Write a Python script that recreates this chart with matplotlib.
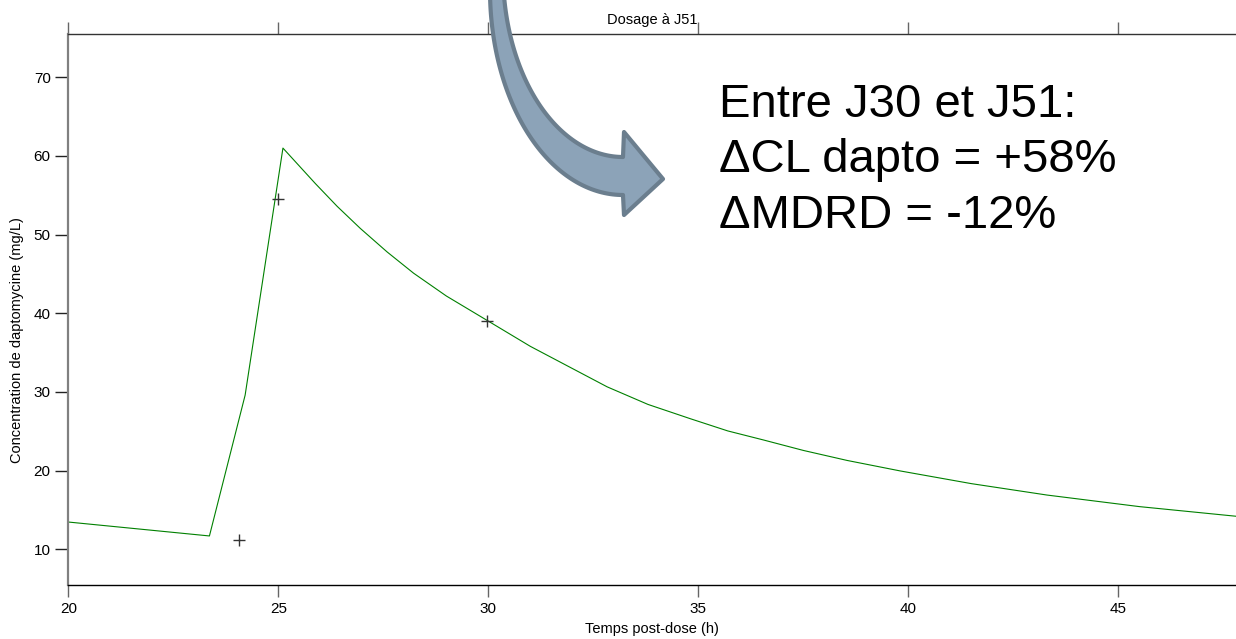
import matplotlib
matplotlib.use("Agg")
import matplotlib.pyplot as plt
import numpy as np
from matplotlib.patches import Polygon

plt.rcParams['font.family'] = ['Liberation Sans', 'DejaVu Sans']

# Data
pred_time = [20.0, 23.36, 24.21, 25.11, 25.88, 26.4, 26.95, 27.59, 28.22, 29.0,
             29.97, 31.0, 32.83, 33.8, 34.81, 35.7, 36.55, 37.5, 38.54, 39.81,
             41.5, 43.3, 45.5, 47.81, 48.0]
pred_conc = [13.47, 11.7, 29.6, 61.0, 56.5, 53.6, 50.8, 47.8, 45.1, 42.2,
             39.1, 35.8, 30.65, 28.42, 26.6, 25.05, 23.9, 22.57, 21.3, 19.96,
             18.35, 16.9, 15.43, 14.2, 14.1]
obs_time = [24.06, 24.99, 29.98]
obs_conc = [11.15, 54.5, 39.05]
xticks = [20, 25, 30, 35, 40, 45]
yticks = [10, 20, 30, 40, 50, 60, 70]

W, H = 1236, 639
fig = plt.figure(figsize=(W / 100, H / 100), dpi=100)
ax = fig.add_axes([68.3 / W, 1 - 584.5 / H, 1 - 68.3 / W, (584.5 - 34) / H])

ax.plot(pred_time, pred_conc, color='#008000', lw=0.8)
ax.plot(obs_time, obs_conc, ls='none', marker='+', ms=9, mew=1, color='#333333')

ax.set_xlim(20, 47.80)
ax.set_ylim(5.53, 75.5)
ax.set_xticks(xticks)
ax.set_yticks(yticks)

ax.spines['right'].set_visible(False)
ax.spines['left'].set_color('#808080')
ax.spines['left'].set_linewidth(1.6)
ax.spines['bottom'].set_linewidth(1.0)
ax.spines['top'].set_color('#333333')
ax.spines['top'].set_linewidth(1.0)

ax.tick_params(axis='x', which='both', top=True, bottom=True, direction='out',
               length=8.6, width=1, color='#666666', labelsize=11, pad=4)
ax.tick_params(axis='y', direction='out', length=9.2, width=1, color='#222222',
               labelsize=11, pad=3.5)

# Labels / title placed by pixel position
fig.text(652 / W, 1 - 24 / H, 'Dosage à J51', ha='center', va='baseline', fontsize=10.5)
fig.text(652 / W, 1 - 633 / H, 'Temps post-dose (h)', ha='center', va='baseline', fontsize=10.5)
fig.text(17 / W, 1 - 340 / H, 'Concentration de daptomycine (mg/L)', rotation=90,
         ha='center', va='center', fontsize=10.5)

# Big annotation text
lines = ['Entre J30 et J51:', 'ΔCL dapto = +58%', 'ΔMDRD = -12%']
baselines = [116.7, 171.7, 228.3]
for txt, yb in zip(lines, baselines):
    fig.text(719 / W, 1 - yb / H, txt, ha='left', va='baseline', fontsize=34)

# Curved block arrow (pixel coordinates, converted to figure fraction)
th = np.linspace(0, np.pi / 2, 80)
outer = np.column_stack([623 - 133 * np.cos(th), -10 + 205 * np.sin(th)])
inner = np.column_stack([623 - 120 * np.cos(th), -28 + 185 * np.sin(th)])
pts = [(490, -30)] + outer.tolist() + [(624, 215), (663, 179), (624, 132)] \
      + inner[::-1].tolist() + [(503, -30)]
pts = np.array(pts)
fig_pts = np.column_stack([pts[:, 0] / W, 1 - pts[:, 1] / H])
arrow = Polygon(fig_pts, closed=True, transform=fig.transFigure,
                facecolor='#8CA3B8', edgecolor='#6B7E8E', lw=3, joinstyle='round')
fig.add_artist(arrow)

fig.savefig('out.png', dpi=100)
